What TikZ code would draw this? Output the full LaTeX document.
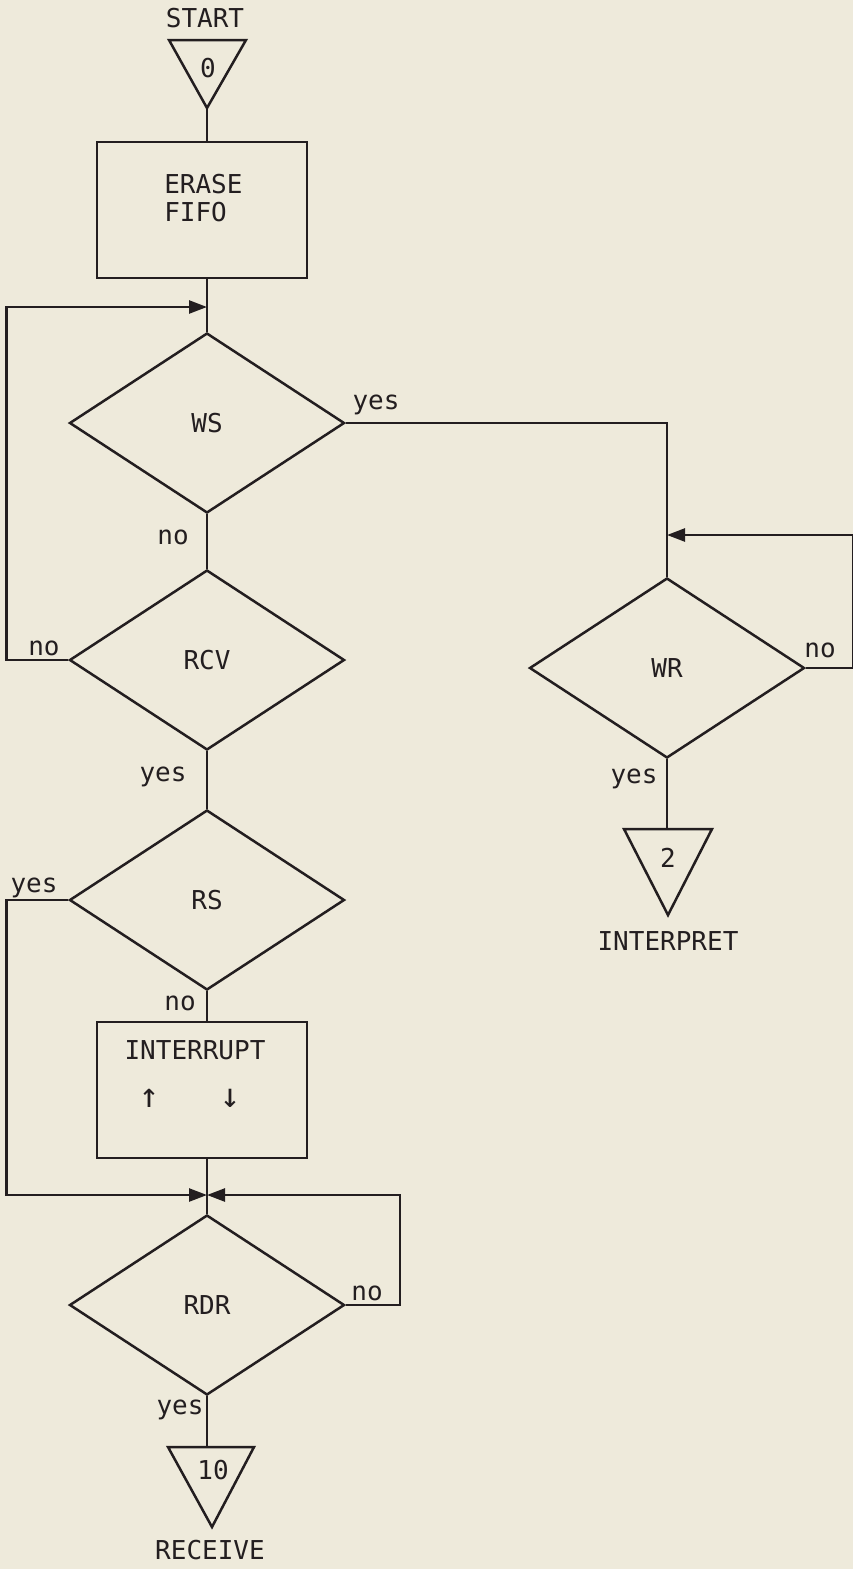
\documentclass[tikz,border=0pt]{standalone}
\usepackage{fontspec}
\setmainfont{DejaVu Sans Mono}
\usetikzlibrary{shapes.geometric,arrows.meta}
\definecolor{bg}{RGB}{238,234,219}
\definecolor{ink}{RGB}{35,30,32}
\begin{document}
\begin{tikzpicture}[x=1pt,y=-1pt, line width=2.5pt, draw=ink, text=ink, line join=miter,
  font=\fontsize{26}{28}\selectfont,
  dia/.style={diamond, draw, minimum width=275pt, minimum height=180pt, inner sep=0pt},
  proc/.style={rectangle, draw, minimum width=210pt, minimum height=136pt, inner sep=0pt},
  lbl/.style={inner sep=0pt},
  bigarrow/.style={inner sep=0pt, font=\fontsize{34}{36}\selectfont},
  arr/.style={-{Triangle[length=18pt,width=13pt,fill=ink]}, draw=ink}]
\fill[bg] (0,0) rectangle (853,1569);
\useasboundingbox (0,0) rectangle (853,1569);

% start connector
\node[lbl] (start) at (205,18) {START};
\coordinate (t0a) at (169,40);
\coordinate (t0b) at (246,40);
\coordinate (t0c) at (207,108);
\draw (t0a) -- (t0b) -- (t0c) -- cycle;
\node[lbl] (n0) at (208,68) {0};

% erase fifo
\node[proc] (erase) at (202,210) {};
\node[lbl, align=left, anchor=west] (erasetxt) at (163,198) {ERASE\\FIFO};
\draw (t0c) -- (t0c |- erase.north);

% decisions
\node[dia] (ws) at (207,423) {WS};
\node[dia] (rcv) at (207,660) {RCV};
\node[dia] (rs) at (207,900) {RS};
\node[proc] (intr) at (202,1090) {};
\node[lbl] (intrtxt) at (195,1050) {INTERRUPT};
\node[bigarrow] (up) at (149,1098) {↑};
\node[bigarrow] (down) at (230,1098) {↓};
\node[dia] (rdr) at (207,1305) {RDR};
\node[dia] (wr) at (667,668) {WR};

\coordinate (j1) at (207,307);
\coordinate (j2) at (667,535);
\coordinate (j3) at (207,1195);

\draw (ws.north |- erase.south) -- (ws.north);
\draw (ws.south) -- (rcv.north);
\draw (rcv.south) -- (rs.north);
\draw (rs.south) -- (rs.south |- intr.north);
\draw (rdr.north |- intr.south) -- (rdr.north);

% loops
\draw[arr] (rcv.west) -- ++(-62,0) |- (j1);
\draw (ws.east) -| (wr.north);
\draw[arr] (wr.east) -- ++(47,0) |- (j2);
\draw[arr] (rs.west) -- ++(-62,0) |- (j3);
\draw[arr] (rdr.east) -- ++(54,0) |- (j3);

% triangle 2
\coordinate (t2a) at (624,829);
\coordinate (t2b) at (712,829);
\coordinate (t2c) at (668,915);
\draw (t2a) -- (t2b) -- (t2c) -- cycle;
\node[lbl] (n2) at (668,858) {2};
\node[lbl] (interp) at (668,941) {INTERPRET};
\draw (wr.south) -- (wr.south |- t2a);

% triangle 10
\coordinate (t10a) at (168,1447);
\coordinate (t10b) at (254,1447);
\coordinate (t10c) at (212,1527);
\draw (t10a) -- (t10b) -- (t10c) -- cycle;
\node[lbl] (n10) at (213,1470) {10};
\node[lbl] (recv) at (210,1550) {RECEIVE};
\draw (rdr.south) -- (rdr.south |- t10a);

% labels
\node[lbl] (l1) at (376,405) {yes};
\node[lbl] (l2) at (173,537) {no};
\node[lbl] (l3) at (44,648) {no};
\node[lbl] (l4) at (820,650) {no};
\node[lbl] (l5) at (634,779) {yes};
\node[lbl] (l6) at (163,777) {yes};
\node[lbl] (l7) at (34,888) {yes};
\node[lbl] (l8) at (180,1003) {no};
\node[lbl] (l9) at (367,1293) {no};
\node[lbl] (l10) at (180,1410) {yes};
\end{tikzpicture}
\end{document}
